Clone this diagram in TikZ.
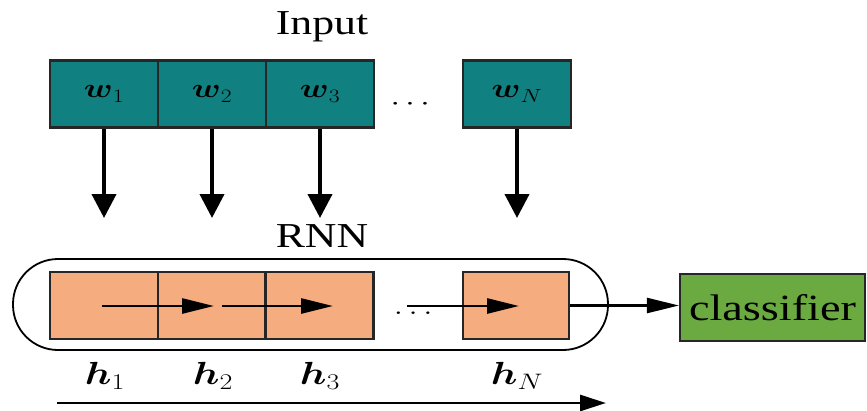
\RequirePackage{fix-cm}
\documentclass[tikz,border=0pt]{standalone}
\usepackage{fontspec}
\usepackage{amsmath}
\usepackage{graphicx}
\setmainfont{Liberation Serif}
\usetikzlibrary{arrows.meta}
\definecolor{wordteal}{RGB}{16,128,128}
\definecolor{hidorange}{RGB}{245,172,126}
\definecolor{clsgreen}{RGB}{106,170,64}
\newcommand\widetext[1]{\scalebox{1.25}[1]{#1}}
\begin{document}
\begin{tikzpicture}[x=1pt,y=-1pt,
  wlab/.style={font=\fontsize{27}{30}\selectfont, inner sep=0pt},
  inbox/.style={wlab, draw=black!85, line width=2.2pt, fill=wordteal, minimum width=108pt, minimum height=67pt},
  hbox/.style={draw=black!85, line width=2.2pt, fill=hidorange, minimum width=108pt, minimum height=67pt, inner sep=0pt},
  rnnbox/.style={draw=black, line width=1.8pt, rounded corners=45pt, minimum width=595pt, minimum height=91pt, inner sep=0pt},
  clsbox/.style={draw=black!85, line width=2.2pt, fill=clsgreen, minimum width=185pt, minimum height=67pt, inner sep=0pt},
  title/.style={font=\fontsize{35}{40}\selectfont, inner sep=0pt},
  hlab/.style={font=\fontsize{32}{36}\selectfont, inner sep=0pt},
  varr/.style={line width=4pt, -{Triangle[length=24pt,width=24pt]}},
  harr/.style={line width=2.6pt, -{Triangle[length=32pt,width=15pt]}},
  barr/.style={line width=2.8pt, -{Triangle[length=26pt,width=16pt]}}
]
\useasboundingbox (0,0) rectangle (867,410);

% input words
\node[title] (inlab) at (322,27) {\widetext{Input}};
\node[inbox] (w1) at (104,94) {\widetext{$\boldsymbol{w}_1$}};
\node[inbox] (w2) at (212,94) {\widetext{$\boldsymbol{w}_2$}};
\node[inbox] (w3) at (320,94) {\widetext{$\boldsymbol{w}_3$}};
\node[wlab, anchor=base] (wdots) at (413,110) {\widetext{$\cdots$}};
\node[inbox] (wN) at (517,94) {\widetext{$\boldsymbol{w}_N$}};

% arrows down into the RNN
\coordinate (d1) at (104,218);
\coordinate (d2) at (212,218);
\coordinate (d3) at (320,218);
\coordinate (dN) at (517,218);
\draw[varr] (w1.south) -- (d1);
\draw[varr] (w2.south) -- (d2);
\draw[varr] (w3.south) -- (d3);
\draw[varr] (wN.south) -- (dN);

% recurrent layer
\node[title] (rnnlab) at (322,236) {\widetext{RNN}};
\node[rnnbox] (rnn) at (310.5,304.5) {};
\node[hbox] (hb1) at (104,305.5) {};
\node[hbox] (hb2) at (212,305.5) {};
\node[hbox] (hb3) at (319.5,305.5) {};
\node[hbox, minimum width=106pt] (hbN) at (516,305.5) {};
\node[wlab, anchor=base] (hdots) at (416,314) {\widetext{$\dots$}};

% hidden-state transitions
\coordinate (s1) at (102,306);
\coordinate (t1) at (214,306);
\coordinate (s2) at (222,306);
\coordinate (t2) at (333,306);
\coordinate (s3) at (407,306);
\coordinate (t3) at (519,306);
\draw[harr] (s1) -- (t1);
\draw[harr] (s2) -- (t2);
\draw[harr] (s3) -- (t3);

% hidden-state labels
\node[hlab] (h1) at (105,376) {\widetext{$\boldsymbol{h}_1$}};
\node[hlab] (h2) at (213,376) {\widetext{$\boldsymbol{h}_2$}};
\node[hlab] (h3) at (320,376) {\widetext{$\boldsymbol{h}_3$}};
\node[hlab] (hN) at (517,376) {\widetext{$\boldsymbol{h}_N$}};

% classifier
\node[clsbox] (cls) at (772.5,307.5) {\fontsize{37}{40}\selectfont\widetext{classifier}};
\draw[harr] (hbN.east) -- (hbN.east -| cls.west);

% time direction
\coordinate (ts) at (57,403);
\coordinate (te) at (606,403);
\draw[barr] (ts) -- (te);
\end{tikzpicture}
\end{document}
